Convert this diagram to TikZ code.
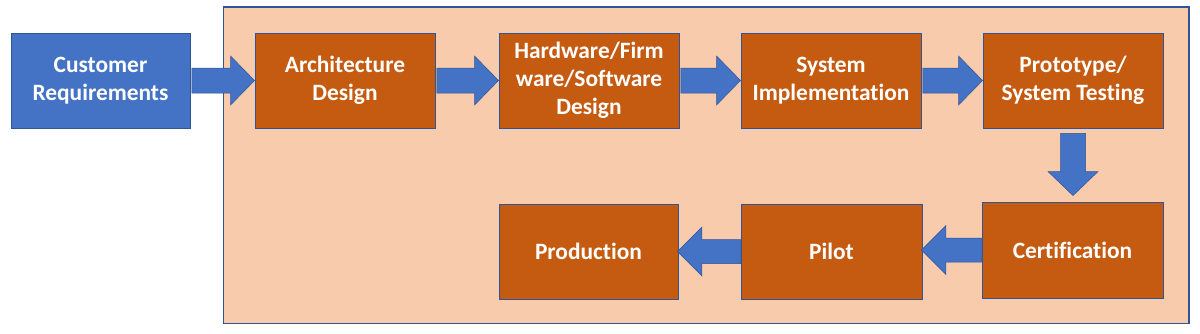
\documentclass[tikz,border=0pt]{standalone}
\usepackage{fontspec}
\setmainfont[Ligatures={TeX,NoCommon}]{Carlito}
\usetikzlibrary{calc}
\definecolor{boxblue}{HTML}{4472C4}
\definecolor{edgeblue}{HTML}{2F5597}
\definecolor{boxorange}{HTML}{C55A11}
\definecolor{bgpeach}{HTML}{F8CBAD}
\tikzset{
  stagebox/.style={draw=edgeblue, line width=0.9pt, fill=boxorange, text=white,
    font=\fontsize{23.4}{28}\selectfont\bfseries, align=center, inner sep=0pt,
    minimum width=180pt, minimum height=95pt},
  custbox/.style={stagebox, fill=boxblue},
  blockarrow/.style={fill=boxblue, draw=edgeblue, line width=0.5pt},
  panel/.style={fill=bgpeach, draw=edgeblue, line width=1.2pt}
}
\newcommand\rightblock[2]{%
  \filldraw[blockarrow] ($(#1.east)+(1.5,-12.5)$) -- ($(#2.west)+(-24,-12.5)$) --
    ($(#2.west)+(-24,-24.5)$) -- (#2.west) -- ($(#2.west)+(-24,24.5)$) --
    ($(#2.west)+(-24,12.5)$) -- ($(#1.east)+(1.5,12.5)$) -- cycle;}
\newcommand\leftblock[2]{%
  \coordinate (tip) at ($(#1.west -| #2.east)+(-1,0)$);
  \filldraw[blockarrow] ($(#1.west)+(0,-12)$) -- ($(tip)+(24.5,-12)$) --
    ($(tip)+(24.5,-24.5)$) -- (tip) -- ($(tip)+(24.5,24.5)$) --
    ($(tip)+(24.5,12)$) -- ($(#1.west)+(0,12)$) -- cycle;}
\begin{document}
\begin{tikzpicture}[x=1pt,y=-1pt]
\useasboundingbox (0,0) rectangle (1200,333);
\draw[panel] (223.5,7) rectangle (1189,323.5);
\node[custbox, minimum width=179pt] (cust) at (100.5,80.5) {Customer\\Requirements};
\node[stagebox] (arch) at (345,80.5) {Architecture\\Design};
\node[stagebox] (hw) at (589,80.5) {Hardware/Firm\\ware/Software\\Design};
\node[stagebox] (sys) at (831,80.5) {System\\Implementation};
\node[stagebox] (proto) at (1073,80.5) {Prototype/\\System Testing};
\node[stagebox, minimum width=181pt, minimum height=96pt] (cert) at (1072.5,250) {Certification};
\node[stagebox, minimum width=181pt] (pilot) at (831.5,251.5) {Pilot};
\node[stagebox, minimum width=179pt] (prod) at (588.5,251.5) {Production};
\rightblock{cust}{arch}
\rightblock{arch}{hw}
\rightblock{hw}{sys}
\rightblock{sys}{proto}
\coordinate (dtip) at ($(proto.south |- cert.north)+(0,-6)$);
\filldraw[blockarrow] ($(proto.south)+(-12.5,5)$) -- ($(dtip)+(-12.5,-24)$) --
  ($(dtip)+(-25,-24)$) -- (dtip) -- ($(dtip)+(25,-24)$) --
  ($(dtip)+(12.5,-24)$) -- ($(proto.south)+(12.5,5)$) -- cycle;
\leftblock{cert}{pilot}
\leftblock{pilot}{prod}
\end{tikzpicture}
\end{document}
